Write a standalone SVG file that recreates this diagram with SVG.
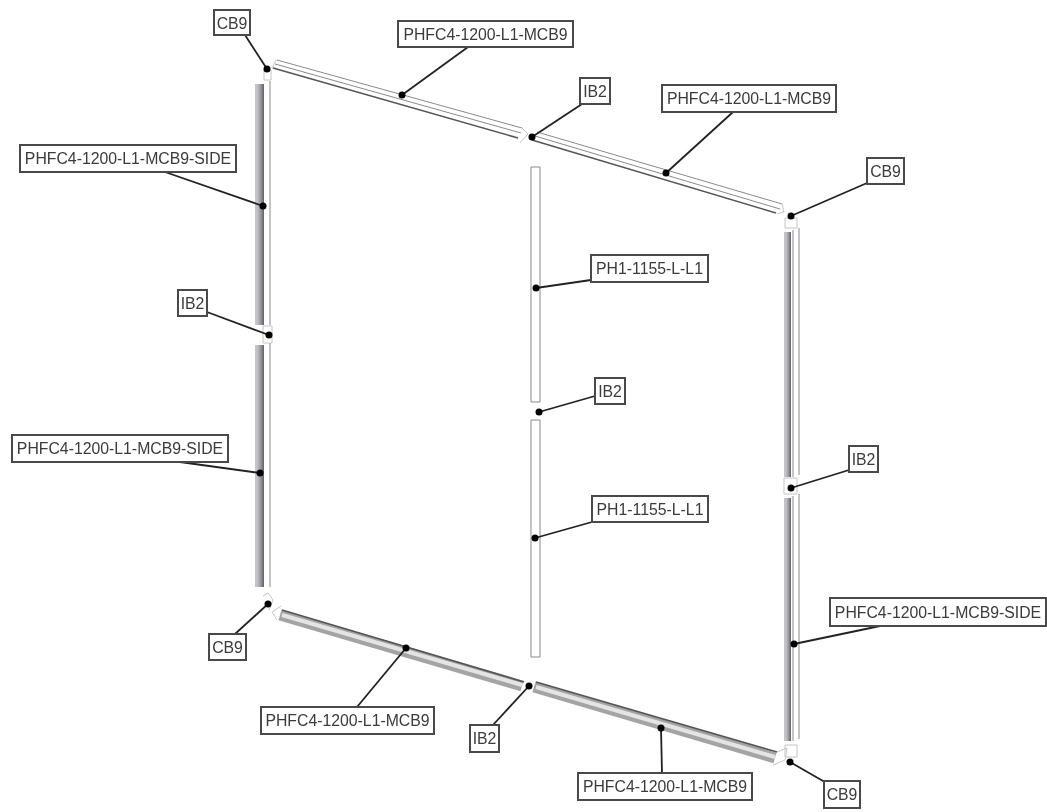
<svg xmlns="http://www.w3.org/2000/svg" width="1047" height="812" viewBox="0 0 1047 812">
<defs>
<filter id="soft" x="-5%" y="-5%" width="110%" height="110%"><feGaussianBlur stdDeviation="0.6"/></filter>
<linearGradient id="vbar" x1="0" y1="0" x2="1" y2="0"><stop offset="0" stop-color="#c4c4ca"/><stop offset="0.5" stop-color="#9a9aa3"/><stop offset="1" stop-color="#60606a"/></linearGradient>
</defs>
<style>
.box{fill:#fff;stroke:#4a4a4a;stroke-width:2}
.lbl{font-family:"Liberation Sans",Arial,sans-serif;font-size:15.8px;fill:#3a3a3a;text-anchor:middle;dominant-baseline:central}
.lead{stroke:#222;stroke-width:1.8;fill:none}
.dot{fill:#000}
.thin{stroke:#8a8a8a;stroke-width:1;fill:none}
.dark{stroke:#555;stroke-width:1.6;fill:none}
.pale{stroke:#c4c4c4;stroke-width:1;fill:none}
.bmain{stroke:#a4a4a4;stroke-width:11;fill:none}
.bmid{stroke:#e4e4e4;stroke-width:4;fill:none}
</style>
<rect width="1047" height="812" fill="#fff"/>
<g id="beams" filter="url(#soft)">
<!-- top beams -->
<path class="thin" d="M277 60L522 128"/><path class="thin" d="M275 64L521 133"/><path class="dark" d="M273 68L518 138"/>
<path class="thin" d="M537 132L782 204"/><path class="thin" d="M535 136L780 209"/><path class="dark" d="M532 140L776 213"/>
<path class="pale" d="M522 128L528 134L520 143M276 60L272 68M782 204L784 212L777 214"/>
<!-- left columns -->
<rect x="257" y="84" width="7" height="241" fill="url(#vbar)"/><path class="thin" d="M256 84V325M270 81V325"/>
<rect x="257" y="345" width="7" height="242" fill="url(#vbar)"/><path class="thin" d="M256 345V587M270 343V587"/>
<path class="pale" d="M264 70H271V80H264Z M263 326H272V343H263Z M263 596L268 593L273 600L269 610"/>
<!-- right columns -->
<rect x="786" y="232" width="5" height="245" fill="url(#vbar)"/><path class="thin" d="M785 232V477M793 230V477M799 228V475"/>
<rect x="786" y="498" width="5" height="243" fill="url(#vbar)"/><path class="thin" d="M785 498V741M793 496V741M799 494V739"/>
<path class="pale" d="M785 218H797V228H785Z M784 478H797V494H784Z M785 745H797V757H785Z"/>
<!-- middle posts -->
<path class="thin" d="M531 167H540V402H531Z M531 420H540V657H531Z"/>
<!-- bottom beams -->
<path class="bmain" d="M280 615L522 686"/><path class="bmid" d="M282 615L522 685"/><path class="dark" d="M282 610L524 682"/>
<path class="bmain" d="M534 687L775 758"/><path class="bmid" d="M536 687L775 757"/><path class="dark" d="M536 682L777 752"/>
<path class="pale" d="M277 620L272 612L281 606M777 752L787 748L785 760L773 765"/>
</g>
<g id="connectors" filter="url(#soft)">
<path class="lead" d="M245 35L267 69"/><path class="lead" d="M468 47L402 95"/><path class="lead" d="M582 104L532 137"/><path class="lead" d="M733 112L666 173"/>
<path class="lead" d="M867 183L791 216"/><path class="lead" d="M165 172L263 206"/><path class="lead" d="M207 312L269 335"/><path class="lead" d="M180 462L260 473"/>
<path class="lead" d="M591 280L536 288"/><path class="lead" d="M595 396L539 412"/><path class="lead" d="M592 522L535 538"/><path class="lead" d="M849 470L791 488"/>
<path class="lead" d="M880 626L794 644"/><path class="lead" d="M235 634L268 604"/><path class="lead" d="M357 707L406 648"/><path class="lead" d="M493 725L529 686"/>
<path class="lead" d="M662 773L661 728"/><path class="lead" d="M830 785L790 762"/>
<g class="dot"><circle cx="267" cy="69" r="3.5"/><circle cx="402" cy="95" r="3.5"/><circle cx="532" cy="137" r="3.5"/><circle cx="666" cy="173" r="3.5"/><circle cx="791" cy="216" r="3.5"/><circle cx="263" cy="206" r="3.5"/><circle cx="269" cy="335" r="3.5"/><circle cx="260" cy="473" r="3.5"/><circle cx="536" cy="288" r="3.5"/><circle cx="539" cy="412" r="3.5"/><circle cx="535" cy="538" r="3.5"/><circle cx="791" cy="488" r="3.5"/><circle cx="794" cy="644" r="3.5"/><circle cx="268" cy="604" r="3.5"/><circle cx="406" cy="648" r="3.5"/><circle cx="529" cy="686" r="3.5"/><circle cx="661" cy="728" r="3.5"/><circle cx="790" cy="762" r="3.5"/></g>
</g>
<g filter="url(#soft)">
<g id="n1"><rect class="box" x="214" y="10" width="36" height="25"/><text class="lbl" x="232" y="23">CB9</text></g>
<g id="n2"><rect class="box" x="398" y="21" width="175" height="26"/><text class="lbl" x="485.500" y="34">PHFC4-1200-L1-MCB9</text></g>
<g id="n3"><rect class="box" x="580" y="78" width="30" height="26"/><text class="lbl" x="595" y="91">IB2</text></g>
<g id="n4"><rect class="box" x="662" y="85" width="174" height="27"/><text class="lbl" x="749" y="98.500">PHFC4-1200-L1-MCB9</text></g>
<g id="n5"><rect class="box" x="867" y="158" width="37" height="26"/><text class="lbl" x="885.500" y="171">CB9</text></g>
<g id="n6"><rect class="box" x="20" y="145" width="216" height="27"/><text class="lbl" x="128" y="158.500">PHFC4-1200-L1-MCB9-SIDE</text></g>
<g id="n7"><rect class="box" x="178" y="290" width="29" height="26"/><text class="lbl" x="192.500" y="303">IB2</text></g>
<g id="n8"><rect class="box" x="12" y="435" width="216" height="27"/><text class="lbl" x="120" y="448.500">PHFC4-1200-L1-MCB9-SIDE</text></g>
<g id="n9"><rect class="box" x="591" y="255" width="117" height="27"/><text class="lbl" x="649.500" y="268.500">PH1-1155-L-L1</text></g>
<g id="n10"><rect class="box" x="595" y="378" width="30" height="26"/><text class="lbl" x="610" y="391">IB2</text></g>
<g id="n11"><rect class="box" x="592" y="496" width="116" height="26"/><text class="lbl" x="650" y="509">PH1-1155-L-L1</text></g>
<g id="n12"><rect class="box" x="849" y="446" width="29" height="26"/><text class="lbl" x="863.500" y="459">IB2</text></g>
<g id="n13"><rect class="box" x="830" y="598" width="216" height="28"/><text class="lbl" x="938" y="612">PHFC4-1200-L1-MCB9-SIDE</text></g>
<g id="n14"><rect class="box" x="209" y="634" width="37" height="26"/><text class="lbl" x="227.500" y="647">CB9</text></g>
<g id="n15"><rect class="box" x="261" y="707" width="173" height="27"/><text class="lbl" x="347.500" y="720.500">PHFC4-1200-L1-MCB9</text></g>
<g id="n16"><rect class="box" x="470" y="725" width="29" height="27"/><text class="lbl" x="484.500" y="738.500">IB2</text></g>
<g id="n17"><rect class="box" x="578" y="773" width="174" height="27"/><text class="lbl" x="665" y="786.500">PHFC4-1200-L1-MCB9</text></g>
<g id="n18"><rect class="box" x="824" y="781" width="36" height="27"/><text class="lbl" x="842" y="794.500">CB9</text></g>
</g>
</svg>
